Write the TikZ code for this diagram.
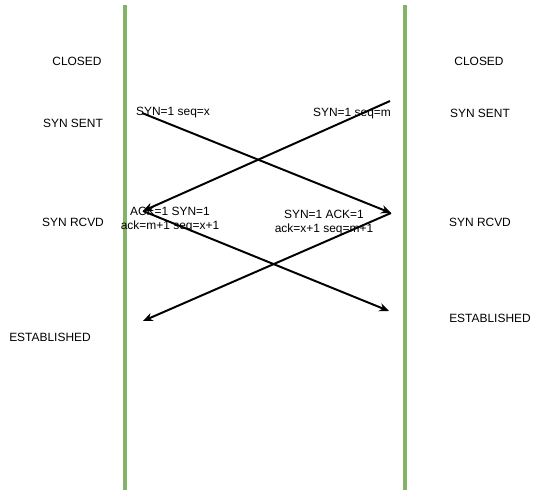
\documentclass[tikz,border=0pt]{standalone}
\usepackage{fontspec}
\setmainfont{Liberation Sans}
\usetikzlibrary{arrows.meta}
\begin{document}
\begin{tikzpicture}[x=0.025cm, y=-0.025cm,
    lifeline/.style={line width=2.8pt, draw={rgb,255:red,130;green,179;blue,102}},
    state/.style={font=\fontsize{8.5}{10}\selectfont, inner sep=1pt},
    msg/.style={font=\fontsize{8.5}{10}\selectfont, inner sep=1pt, align=center},
    arrow/.style={-{Stealth[length=7pt,width=6pt]}, line width=1.4pt, black},
]
\useasboundingbox (0,0) rectangle (541,494);
% the two hosts
\coordinate (Ltop) at (125,5);
\coordinate (Lbot) at (125,490);
\coordinate (Rtop) at (405,5);
\coordinate (Rbot) at (405,490);
\draw[lifeline] (Ltop) -- (Lbot);
\draw[lifeline] (Rtop) -- (Rbot);

% states
\node[state] (closedL) at (77,61) {CLOSED};
\node[state] (sentL) at (73,123) {SYN SENT};
\node[state] (rcvdL) at (73,222) {SYN RCVD};
\node[state] (estL) at (50,337) {ESTABLISHED};
\node[state] (closedR) at (479,61) {CLOSED};
\node[state] (sentR) at (480,113) {SYN SENT};
\node[state] (rcvdR) at (480,222) {SYN RCVD};
\node[state] (estR) at (490,318) {ESTABLISHED};

% segment end points
\coordinate (synA) at (142,113);
\coordinate (synB) at (390,101);
\coordinate (ackA) at (143,211);
\coordinate (ackB) at (391,213);
\coordinate (estA) at (143,321);
\coordinate (estB) at (389,311);

\draw[arrow] (synA) -- (ackB);
\draw[arrow] (synB) -- (ackA);
\draw[arrow] (ackA) -- (estB);
\draw[arrow] (ackB) -- (estA);

% segment labels
\node[msg] (synx) at (173,113) {SYN=1 seq=x};
\node[msg] (synm) at (352,114) {SYN=1 seq=m};
\node[msg] (synackA) at (170,220) {ACK=1 SYN=1\\ack=m+1 seq=x+1};
\node[msg] (synackB) at (324,223) {SYN=1 ACK=1\\ack=x+1 seq=m+1};
\end{tikzpicture}
\end{document}
